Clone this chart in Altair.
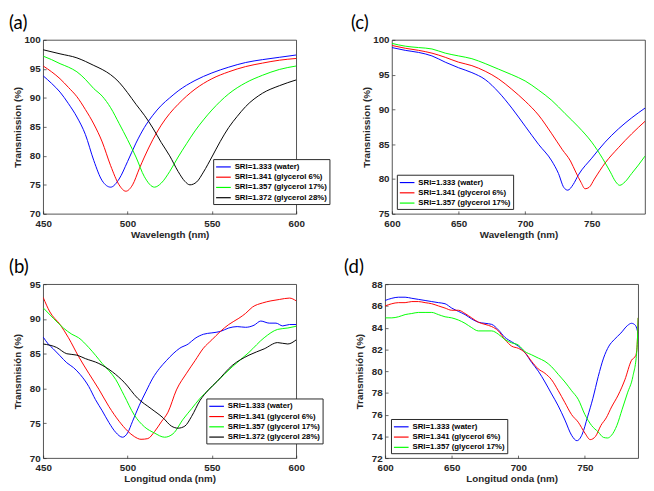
import altair as alt
import pandas as pd

NAMES = ["SRI=1.333 (water)", "SRI=1.341 (glycerol 6%)",
         "SRI=1.357 (glycerol 17%)", "SRI=1.372 (glycerol 28%)"]
COLORS = ["#0000ff", "#ff0000", "#00ff00", "#000000"]

# ---------- panel (a) ----------
a_blue_x = [450, 455, 460, 465, 470, 475, 480, 485, 490, 495, 500, 505, 510, 515, 520, 525, 530, 540, 550, 560, 570, 580, 590, 600]
a_blue_y = [93.8, 92.5, 91.0, 89.0, 86.7, 83.7, 79.2, 75.7, 74.6, 76.0, 79.0, 82.2, 84.9, 87.0, 88.7, 90.0, 91.2, 93.0, 94.3, 95.3, 96.1, 96.6, 97.0, 97.4]
a_red_x = [450, 455, 460, 465, 470, 475, 480, 485, 490, 495, 499, 503, 507, 510, 515, 520, 525, 530, 540, 550, 560, 570, 580, 590, 600]
a_red_y = [95.5, 94.5, 93.3, 91.8, 90.2, 88.0, 85.5, 82.4, 78.3, 75.0, 73.9, 75.0, 77.8, 79.8, 82.8, 85.3, 87.3, 88.9, 91.5, 93.3, 94.5, 95.4, 96.0, 96.5, 96.8]
a_green_x = [450, 455, 460, 465, 470, 475, 480, 485, 490, 495, 500, 505, 510, 516, 520, 525, 530, 535, 540, 545, 550, 560, 570, 580, 590, 600]
a_green_y = [97.2, 96.6, 95.9, 95.3, 94.5, 93.2, 91.6, 90.3, 88.3, 85.6, 82.8, 79.8, 76.4, 74.6, 75.3, 77.3, 79.8, 82.1, 84.3, 86.2, 87.9, 90.7, 92.6, 93.9, 94.9, 95.5]
a_black_x = [450, 460, 470, 475, 480, 485, 490, 495, 500, 505, 510, 515, 520, 525, 530, 534, 537, 541, 545, 550, 555, 560, 565, 570, 580, 590, 600]
a_black_y = [98.3, 97.6, 96.9, 96.3, 95.6, 94.9, 94.0, 92.7, 90.9, 88.9, 87.0, 84.8, 82.3, 80.0, 77.3, 75.6, 75.0, 75.5, 77.2, 79.8, 82.5, 84.9, 86.8, 88.5, 90.8, 92.1, 93.1]

# ---------- panel (b) ----------
b_blue_x = [450, 453, 456, 460, 464, 468, 472, 477, 481, 485, 489, 493, 497, 500, 503, 507, 511, 515, 519, 523, 527, 531, 536, 540, 545, 550, 555, 560, 565, 570, 575, 579, 584, 588, 592, 596, 600]
b_blue_y = [87.4, 86.4, 85.7, 84.7, 83.7, 83.0, 82.0, 80.3, 78.4, 76.8, 75.1, 73.7, 73.0, 73.6, 75.3, 77.6, 79.6, 81.5, 82.9, 84.0, 85.0, 85.8, 86.4, 87.2, 87.8, 88.0, 88.2, 88.7, 88.9, 88.8, 89.1, 89.7, 89.4, 89.4, 89.0, 89.2, 89.2]
b_red_x = [450, 454, 460, 465, 471, 477, 483, 489, 495, 500, 504, 508, 512, 516, 520, 524, 529, 535, 540, 545, 550, 555, 560, 566, 570, 574, 580, 585, 590, 596, 600]
b_red_y = [93.1, 91.0, 89.2, 87.3, 84.6, 82.2, 79.9, 77.4, 75.3, 73.9, 73.1, 72.7, 72.8, 73.8, 75.2, 76.6, 79.8, 82.2, 84.0, 85.8, 87.0, 88.2, 89.2, 90.1, 90.8, 91.7, 92.3, 92.6, 92.8, 93.0, 92.6]
b_green_x = [450, 456, 462, 467, 471, 477, 485, 493, 498, 504, 510, 516, 522, 527, 533, 538, 543, 548, 553, 562, 572, 581, 589, 595, 600]
b_green_y = [91.6, 90.1, 88.7, 87.8, 87.3, 85.9, 83.6, 81.3, 79.0, 76.2, 74.5, 73.6, 73.0, 73.5, 75.6, 77.1, 78.6, 79.8, 81.0, 83.1, 85.2, 87.3, 88.5, 88.7, 88.95]
b_black_x = [450, 458, 464, 470, 475, 483, 491, 498, 506, 514, 521, 526, 530, 534, 538, 543, 548, 553, 562, 572, 581, 589, 595, 600]
b_black_y = [86.4, 85.9, 85.0, 84.8, 84.3, 83.6, 82.4, 80.9, 78.6, 77.1, 75.8, 74.6, 74.3, 74.6, 76.0, 78.3, 79.8, 81.0, 83.3, 84.8, 85.7, 86.6, 86.4, 87.0]

# ---------- panel (c) ----------
c_blue_x = [600, 610, 620, 630, 640, 650, 660, 670, 680, 690, 700, 710, 720, 725, 729, 732, 736, 740, 750, 760, 770, 780, 790]
c_blue_y = [98.9, 98.5, 98.2, 97.7, 96.8, 96.0, 95.3, 94.3, 92.5, 90.2, 87.6, 85.0, 82.6, 80.8, 78.8, 78.4, 79.2, 80.6, 83.0, 85.3, 87.2, 88.8, 90.2]
c_red_x = [600, 610, 620, 630, 640, 650, 660, 670, 680, 690, 700, 710, 720, 728, 734, 738, 742, 745, 748, 752, 760, 770, 780, 790]
c_red_y = [99.2, 98.8, 98.5, 98.1, 97.5, 96.8, 96.3, 95.5, 94.4, 92.9, 91.2, 89.2, 86.5, 84.2, 82.6, 81.0, 79.5, 78.6, 78.8, 80.0, 82.3, 84.5, 86.5, 88.3]
c_green_x = [600, 610, 620, 630, 640, 650, 660, 670, 680, 690, 700, 710, 720, 730, 740, 750, 758, 764, 768, 771, 775, 780, 785, 790]
c_green_y = [99.5, 99.1, 98.9, 98.7, 98.1, 97.7, 97.3, 96.6, 95.8, 95.0, 94.1, 92.8, 91.3, 89.4, 87.5, 85.3, 83.0, 81.0, 79.6, 79.1, 79.6, 80.8, 82.0, 83.3]

# ---------- panel (d) ----------
d_blue_x = [600, 605, 610, 615, 620, 625, 630, 635, 640, 645, 650, 655, 660, 665, 670, 675, 680, 685, 690, 695, 700, 705, 710, 715, 720, 725, 730, 735, 740, 744, 748, 752, 756, 760, 764, 768, 772, 777, 782, 785, 788, 790]
d_blue_y = [86.5, 86.7, 86.8, 86.8, 86.7, 86.6, 86.5, 86.4, 86.3, 86.2, 85.8, 85.5, 85.2, 84.8, 84.5, 84.4, 84.3, 83.8, 83.1, 82.7, 82.3, 81.7, 80.8, 80.0, 79.0, 77.9, 76.8, 75.5, 74.1, 73.6, 74.2, 75.8, 77.5, 79.5, 81.2, 82.3, 82.9, 83.5, 84.2, 84.4, 84.2, 83.4]
d_red_x = [600, 605, 610, 615, 620, 625, 630, 635, 640, 645, 650, 655, 660, 665, 670, 675, 680, 685, 690, 695, 700, 705, 710, 715, 720, 725, 730, 735, 740, 745, 750, 754, 758, 762, 766, 770, 775, 780, 785, 788, 789, 790]
d_red_y = [86.0, 86.2, 86.3, 86.3, 86.4, 86.4, 86.3, 86.2, 86.0, 85.8, 85.6, 85.6, 85.3, 84.9, 84.5, 84.3, 84.1, 83.7, 82.9, 82.3, 82.1, 81.7, 80.9, 80.2, 79.8, 79.2, 78.2, 77.1, 76.0, 75.3, 74.3, 73.7, 74.0, 75.0, 75.7, 76.7, 77.8, 79.2, 81.0, 81.4, 82.0, 84.9]
d_green_x = [600, 605, 610, 615, 620, 625, 630, 635, 640, 645, 650, 655, 660, 665, 670, 675, 680, 685, 690, 695, 700, 705, 710, 715, 720, 725, 730, 735, 740, 745, 750, 755, 760, 764, 767, 770, 774, 778, 782, 786, 789, 790]
d_green_y = [84.9, 84.9, 85.0, 85.2, 85.3, 85.4, 85.4, 85.4, 85.2, 85.0, 84.9, 84.7, 84.4, 84.0, 83.7, 83.7, 83.7, 83.4, 82.9, 82.6, 82.4, 81.8, 81.5, 81.2, 80.9, 80.4, 79.7, 79.0, 78.2, 77.4, 76.0, 75.0, 74.4, 73.9, 73.85, 74.1, 75.0, 76.5, 78.0, 79.5, 81.9, 84.9]


def frame(series):
    rows = []
    for i, (xs, ys) in enumerate(series):
        for x, y in zip(xs, ys):
            rows.append({"wl": x, "T": y, "series": NAMES[i]})
    return pd.DataFrame(rows)


W, H = 259, 178


def panel(df, label, xtitle, ytitle, xdom, ydom, xvals, yvals, n, lx, ly, tdx):
    sc = alt.Scale(domain=NAMES[:n], range=COLORS[:n])
    return alt.Chart(
        df,
        title=alt.Title(label, anchor="start", frame="group", dx=tdx, fontSize=19, font="Lato",
                        fontWeight="normal", color="black", offset=2),
    ).mark_line(strokeWidth=1, clip=True, interpolate="monotone").encode(
        x=alt.X("wl:Q", scale=alt.Scale(domain=xdom, nice=False, zero=False),
                axis=alt.Axis(values=xvals, title=xtitle, format="d")),
        y=alt.Y("T:Q", scale=alt.Scale(domain=ydom, nice=False, zero=False),
                axis=alt.Axis(values=yvals, title=ytitle, format="d")),
        color=alt.Color("series:N", scale=sc,
                        legend=alt.Legend(orient="none", legendX=lx, legendY=ly, title=None)),
        order=alt.Order("wl:Q"),
    ).properties(width=W, height=H)


pa = panel(frame([(a_blue_x, a_blue_y), (a_red_x, a_red_y), (a_green_x, a_green_y), (a_black_x, a_black_y)]),
           "(a)", "Wavelength (nm)", "Transmission (%)", [450, 600], [70, 100],
           [450, 500, 550, 600], [70, 75, 80, 85, 90, 95, 100], 4, 174, 122, -35)
pb = panel(frame([(b_blue_x, b_blue_y), (b_red_x, b_red_y), (b_green_x, b_green_y), (b_black_x, b_black_y)]),
           "(b)", "Longitud onda (nm)", "Transmisión (%)", [450, 600], [70, 95],
           [450, 500, 550, 600], [70, 75, 80, 85, 90, 95], 4, 167, 117, -35)
pc = panel(frame([(c_blue_x, c_blue_y), (c_red_x, c_red_y), (c_green_x, c_green_y)]),
           "(c)", "Wavelength (nm)", "Transmission (%)", [600, 790], [75, 100],
           [600, 650, 700, 750], [75, 80, 85, 90, 95, 100], 3, 5, 138, -42)
pd_ = panel(frame([(d_blue_x, d_blue_y), (d_red_x, d_red_y), (d_green_x, d_green_y)]),
            "(d)", "Longitud onda (nm)", "Transmisión (%)", [600, 790], [72, 88],
            [600, 650, 700, 750], [72, 74, 76, 78, 80, 82, 84, 86, 88], 3, 6, 138, -42)

row1 = alt.hconcat(pa, pc, spacing=20).resolve_scale(color="independent")
row2 = alt.hconcat(pb, pd_, spacing=20).resolve_scale(color="independent")

chart = alt.vconcat(row1, row2, spacing=18).resolve_scale(color="independent").properties(
    padding={"left": 0, "top": 0, "right": 0, "bottom": 0}
).configure(background="white").configure_view(
    stroke="#262626", strokeWidth=0.8
).configure_axis(
    domain=False, grid=False, ticks=True, tickSize=3, tickWidth=0.7, tickColor="#262626",
    offset=-3, labelFlush=False, labelOverlap=False,
    labelFont="Liberation Sans", labelFontWeight="bold", labelFontSize=10, labelColor="#262626",
    titleFont="Liberation Sans", titleFontWeight="bold", titleFontSize=10, titleColor="#262626",
    labelPadding=3,
).configure_axisY(minExtent=23, maxExtent=23, titlePadding=1).configure_axisX(
    labelPadding=5, titlePadding=1
).configure_legend(
    strokeColor="#262626", fillColor="white", padding=2, cornerRadius=0,
    labelFont="Liberation Sans", labelFontWeight="bold", labelFontSize=8, labelColor="black",
    symbolType="M-1,0H2", symbolSize=100, symbolStrokeWidth=1.2, labelOffset=8,
    rowPadding=0.5,
)

chart.save("out.html", embed_options={"renderer": "svg", "actions": False})
